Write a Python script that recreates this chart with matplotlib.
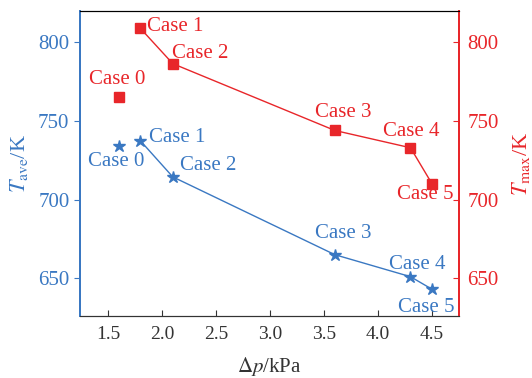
import matplotlib
matplotlib.use('Agg')
import matplotlib.pyplot as plt

plt.rcParams['font.family'] = ['Liberation Serif', 'DejaVu Serif']
plt.rcParams['mathtext.fontset'] = 'stix'

# data
cases = ['Case 0', 'Case 1', 'Case 2', 'Case 3', 'Case 4', 'Case 5']
dp = [1.6, 1.8, 2.1, 3.6, 4.3, 4.5]
t_ave = [734, 737.5, 714.5, 665, 651, 643]
t_max = [765.5, 809, 786.5, 744, 733, 710]

# label offsets (pixels) for each case
ave_off = [(-3, -15), (9, 3), (7, 11), (8, 21), (7, 12), (-6, -18)]
ave_ha = ['center', 'left', 'left', 'center', 'center', 'center']
max_off = [(-2, 17), (7, 2), (-1, 10), (8, 18), (1, 16), (-7, -11)]
max_ha = ['center', 'left', 'left', 'center', 'center', 'center']

blue = '#3a78c2'
red = '#e8262a'

fig = plt.figure(figsize=(5.32, 3.78), dpi=100)
ax = fig.add_axes([0.150, 0.164, 0.713, 0.807])
ax2 = ax.twinx()

# case 0 is not joined to the others
ax.plot(dp[1:], t_ave[1:], color=blue, lw=1)
ax.plot(dp, t_ave, ls='none', marker='*', ms=9, color=blue)
ax2.plot(dp[1:], t_max[1:], color=red, lw=1)
ax2.plot(dp, t_max, ls='none', marker='s', ms=6.5, color=red)

for i in range(len(cases)):
    ax.annotate(cases[i], (dp[i], t_ave[i]), xytext=ave_off[i], textcoords='offset pixels',
                ha=ave_ha[i], va='center', color=blue, fontsize=15)
    ax2.annotate(cases[i], (dp[i], t_max[i]), xytext=max_off[i], textcoords='offset pixels',
                 ha=max_ha[i], va='center', color=red, fontsize=15)

ax.set_xlim(1.24, 4.75)
ax.set_ylim(626, 820)
ax2.set_ylim(626, 820)
ax.set_xticks([1.5, 2.0, 2.5, 3.0, 3.5, 4.0, 4.5])
ax.set_yticks([650, 700, 750, 800])
ax2.set_yticks([650, 700, 750, 800])

ax.tick_params(axis='x', direction='in', colors='#333333', labelsize=14, length=4, pad=7)
ax.tick_params(axis='y', direction='out', colors=blue, labelsize=15, length=4)
ax2.tick_params(axis='y', direction='in', colors=red, labelsize=15, length=4, pad=6)

for a in (ax, ax2):
    a.spines['left'].set_color(blue)
    a.spines['right'].set_color(red)
    a.spines['top'].set_color('black')
    a.spines['bottom'].set_color('#333333')
    a.spines['left'].set_linewidth(1.4)
    a.spines['right'].set_linewidth(1.4)

ax.set_xlabel(r'$\Delta p$/kPa', fontsize=15, color='#333333', labelpad=9)
ax.set_ylabel(r'$T_{\rm ave}$/K', fontsize=16, color=blue, labelpad=6)
ax2.set_ylabel(r'$T_{\rm max}$/K', fontsize=16, color=red, labelpad=8)

plt.savefig('out.png', dpi=100)
